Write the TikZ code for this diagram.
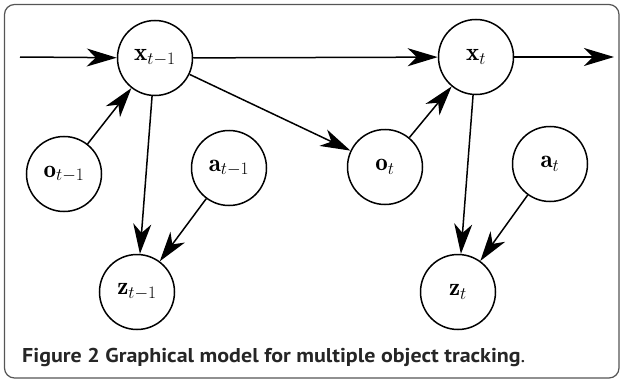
\RequirePackage{fix-cm}
\documentclass[tikz,border=0pt]{standalone}
\usepackage{fontspec}
\usetikzlibrary{arrows.meta}
\newfontfamily\capfont{PT Sans}
\definecolor{framegray}{HTML}{555555}
\definecolor{captext}{HTML}{262626}
\tikzset{
  var/.style={circle, draw, line width=1.5pt, minimum size=75pt, inner sep=0pt, font=\fontsize{25}{30}\selectfont},
  edge/.style={line width=1.5pt, -{Stealth[length=30pt, width=18pt, inset=9pt]}},
}
\begin{document}
\begin{tikzpicture}[x=1pt, y=-1pt]
\useasboundingbox (0,0) rectangle (622,380);
\draw[framegray, line width=1.2pt, rounded corners=10pt] (4.5,4.5) rectangle (619,378);
\node[var] (xp) at (155,58) {$\mathbf{x}_{t-1}$};
\node[var] (x) at (476,57) {$\mathbf{x}_{t}$};
\node[var] (op) at (64,174) {$\mathbf{o}_{t-1}$};
\node[var] (ap) at (229,168) {$\mathbf{a}_{t-1}$};
\node[var] (o) at (385,167) {$\mathbf{o}_{t}$};
\node[var] (a) at (550,164) {$\mathbf{a}_{t}$};
\node[var] (zp) at (137,292) {$\mathbf{z}_{t-1}$};
\node[var] (z) at (458,292) {$\mathbf{z}_{t}$};
\coordinate (in) at (20,57);
\coordinate (out) at (614,57);
\draw[edge] (in) -- (xp);
\draw[edge] (xp) -- (x);
\draw[edge] (x) -- (out);
\draw[edge] (op) -- (xp);
\draw[edge] (xp) -- (o);
\draw[edge] (o) -- (x);
\draw[edge] (xp) -- (zp);
\draw[edge] (ap) -- (zp);
\draw[edge] (x) -- (z);
\draw[edge] (a) -- (z);
\node[anchor=base west, inner sep=0pt, text=captext, font=\capfont\fontsize{20}{24}\selectfont] (cap) at (22,362)
  {\scalebox{1.1}[1]{\bfseries Figure 2 Graphical model for multiple object tracking\mdseries.}};
\end{tikzpicture}
\end{document}
